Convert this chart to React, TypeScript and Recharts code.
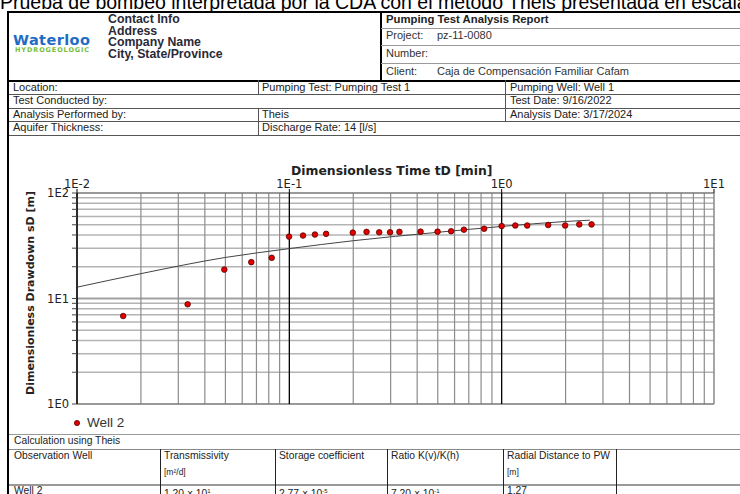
import React from 'react'
import { ComposedChart, Line, Scatter, XAxis, YAxis, ReferenceLine } from 'recharts'

// observed drawdown, Well 2
const wellTime = [0.0165, 0.0332, 0.0494, 0.0662, 0.0826, 0.0997, 0.116, 0.132, 0.149, 0.199, 0.231, 0.265, 0.298, 0.33, 0.415, 0.499, 0.578, 0.664, 0.827, 1.0, 1.159, 1.319, 1.656, 1.991, 2.32, 2.65]
const wellDrawdown = [6.82, 8.81, 18.8, 22.1, 24.3, 38.6, 39.5, 40.4, 41.0, 42.1, 42.8, 42.4, 42.4, 42.8, 43.0, 43.0, 43.4, 44.9, 45.9, 48.6, 49.2, 49.2, 49.7, 49.2, 50.4, 50.4]

// Theis type curve
const theisTime = [0.01, 0.02, 0.05, 0.1, 0.2, 0.5, 1, 2, 2.6]
const theisDrawdown = [12.8, 17.2, 24.5, 29.7, 35.3, 42.4, 48.2, 53.7, 55.3]

const xMajor = [0.01, 0.1, 1, 10]
const xMajorLabels = ['1E-2', '1E-1', '1E0', '1E1']
const xMinor = [0.02, 0.03, 0.04, 0.05, 0.06, 0.07, 0.08, 0.09, 0.2, 0.3, 0.4, 0.5, 0.6, 0.7, 0.8, 0.9, 2, 3, 4, 5, 6, 7, 8, 9]
const yMajor = [1, 10, 100]
const yMajorLabels = ['1E0', '1E1', '1E2']
const yMinor = [2, 3, 4, 5, 6, 7, 8, 9, 20, 30, 40, 50, 60, 70, 80, 90]

const wellData = wellTime.map((x, i) => ({ x, y: wellDrawdown[i] }))
const theisData = theisTime.map((x, i) => ({ x, y: theisDrawdown[i] }))
const yTicks = [...yMajor, ...yMinor].sort((a, b) => a - b)

const F = '"Liberation Sans", Arial, sans-serif'
const D = '"DejaVu Sans", sans-serif'

function T({ x, y, size = 11, bold = false, color = '#222', font = F, children }: any) {
  return (
    <div style={{ position: 'absolute', left: x, top: y - size * 0.6, fontSize: size, lineHeight: `${size * 1.2}px`, fontWeight: bold ? 'bold' : 'normal', color, fontFamily: font, whiteSpace: 'nowrap' }}>
      {children}
    </div>
  )
}

function HL({ y, x1 = 9, x2 = 740, color = '#888', w = 1 }: any) {
  return <div style={{ position: 'absolute', left: x1, top: y, width: x2 - x1, height: w, background: color }} />
}

function VL({ x, y1, y2, color = '#555', w = 1 }: any) {
  return <div style={{ position: 'absolute', left: x, top: y1, width: w, height: y2 - y1, background: color }} />
}

function Dot(props: any) {
  const { cx, cy } = props
  return <circle cx={cx} cy={cy} r={2.8} fill="#e00000" stroke="#5a0000" strokeWidth={0.8} />
}

function Chart() {
  return (
    <div style={{ position: 'absolute', left: 0, top: 140 }}>
      <ComposedChart width={740} height={280} margin={{ top: 35, right: 26, bottom: 16, left: 37 }}>
        <XAxis
          dataKey="x" type="number" scale="log" domain={[0.01, 10]} allowDataOverflow
          orientation="top" ticks={xMajor} height={18}
          tickFormatter={(v: number) => xMajorLabels[xMajor.indexOf(v)] ?? ''}
          tick={{ fontFamily: D, fontSize: 11.5, fill: '#222' }}
          axisLine={false} tickLine={{ stroke: '#000' }} tickSize={4} tickMargin={1}
        />
        <YAxis
          dataKey="y" type="number" scale="log" domain={[1, 100]} allowDataOverflow
          ticks={yTicks} width={40} interval={0}
          tickFormatter={(v: number) => yMajorLabels[yMajor.indexOf(v)] ?? ''}
          tick={{ fontFamily: D, fontSize: 11.5, fill: '#222' }}
          axisLine={{ stroke: '#000' }} tickLine={{ stroke: '#444' }} tickSize={5} tickMargin={3}
        />
        {yMinor.map((v) => <ReferenceLine key={'hy' + v} y={v} stroke="#b4b4b4" strokeWidth={1.5} />)}
        <ReferenceLine y={10} stroke="#a0a0a0" strokeWidth={2} />
        {xMinor.map((v) => <ReferenceLine key={'vx' + v} x={v} stroke="#8c8c8c" strokeWidth={1.2} />)}
        <ReferenceLine y={100} stroke="#777" strokeWidth={1.5} />
        <ReferenceLine y={1} stroke="#777" strokeWidth={1.5} />
        <ReferenceLine x={0.01} stroke="#000" strokeWidth={1.3} />
        <ReferenceLine x={0.1} stroke="#000" strokeWidth={1.3} />
        <ReferenceLine x={1} stroke="#000" strokeWidth={1.3} />
        <ReferenceLine x={10} stroke="#888" strokeWidth={1.5} />
        <Line data={theisData} dataKey="y" type="monotone" stroke="#444" strokeWidth={1} dot={false} isAnimationActive={false} />
        <Scatter data={wellData} dataKey="y" shape={<Dot />} isAnimationActive={false} />
      </ComposedChart>
    </div>
  )
}

export default function App() {
  return (
    <div style={{ position: 'absolute', left: 0, top: 0, width: 740, height: 494, overflow: 'hidden', background: '#fff', fontFamily: F }}>
      <div style={{ position: 'absolute', left: 0, top: -8.5, fontSize: 19.5, lineHeight: '20px', whiteSpace: 'nowrap', color: '#000' }}>
        Prueba de bombeo interpretada por la CDA con el método Theis presentada en escala log-log
      </div>

      {/* header box */}
      <div style={{ position: 'absolute', left: 7, top: 10.5, width: 760, height: 67.5, borderTop: '2px solid #000', borderLeft: '2px solid #000', borderBottom: '2px solid #000', background: '#fff' }} />
      <VL x={380} y1={11} y2={80} color="#000" w={1.5} />
      <HL y={27.5} x1={381} color="#999" w={1.5} />
      <HL y={44.5} x1={381} color="#999" w={1.5} />
      <HL y={62.5} x1={381} color="#999" w={1.5} />

      <T x={13} y={41} size={14.5} bold font={D} color="#1f6cc4"><span style={{ letterSpacing: 0.4 }}>Waterloo</span></T>
      <T x={15} y={50.5} size={6.5} bold font={D} color="#74bf3e"><span style={{ letterSpacing: 0.9 }}>HYDROGEOLOGIC</span></T>
      <T x={108} y={19.3} size={12.3} bold color="#2a2a38">Contact Info</T>
      <T x={108} y={31} size={12.3} bold color="#2a2a38">Address</T>
      <T x={108} y={42.7} size={12.3} bold color="#2a2a38">Company Name</T>
      <T x={108} y={54.3} size={12.3} bold color="#2a2a38">City, State/Province</T>

      <T x={386} y={19.5} size={11.3} bold>Pumping Test Analysis Report</T>
      <T x={386} y={36} size={11} color="#333">Project:</T>
      <T x={437} y={36} size={11} color="#333">pz-11-0080</T>
      <T x={386} y={54} size={11} color="#333">Number:</T>
      <T x={386} y={71.5} size={11} color="#333">Client:</T>
      <T x={437} y={71.5} size={11} color="#333">Caja de Compensación Familiar Cafam</T>

      {/* info rows */}
      <VL x={7} y1={80} y2={494} color="#000" w={2} />
      <HL y={94} color="#555" />
      <HL y={107.5} color="#555" />
      <HL y={121} color="#555" />
      <HL y={134.5} color="#555" />
      <VL x={258} y1={80} y2={94} />
      <VL x={505} y1={80} y2={121} />
      <VL x={258} y1={107.5} y2={134.5} />
      <T x={13} y={87.5} size={11}>Location:</T>
      <T x={262} y={87.5} size={11}>Pumping Test: Pumping Test 1</T>
      <T x={510} y={87.5} size={11}>Pumping Well: Well 1</T>
      <T x={13} y={101} size={11}>Test Conducted by:</T>
      <T x={510} y={101} size={11}>Test Date: 9/16/2022</T>
      <T x={13} y={114.5} size={11}>Analysis Performed by:</T>
      <T x={262} y={114.5} size={11}>Theis</T>
      <T x={510} y={114.5} size={11}>Analysis Date: 3/17/2024</T>
      <T x={13} y={128} size={11}>Aquifer Thickness:</T>
      <T x={262} y={128} size={11}>Discharge Rate: 14 [l/s]</T>

      {/* chart */}
      <T x={291} y={171} size={12.4} bold font={D}>Dimensionless Time tD [min]</T>
      <div style={{ position: 'absolute', left: 30, top: 293, transform: 'translate(-50%, -50%) rotate(-90deg)', fontFamily: D, fontSize: 11, fontWeight: 'bold', color: '#222', whiteSpace: 'nowrap' }}>
        Dimensionless Drawdown sD [m]
      </div>
      <Chart />
      <svg style={{ position: 'absolute', left: 73, top: 419 }} width={8} height={8}>
        <circle cx={4} cy={4} r={2.6} fill="#e00000" stroke="#5a0000" strokeWidth={0.8} />
      </svg>
      <T x={87} y={423} size={13.5} color="#333">Well 2</T>

      {/* results table */}
      <HL y={433.5} color="#999" w={1.5} />
      <HL y={449} color="#888" />
      <HL y={484} color="#999" w={1.5} />
      <VL x={160} y1={449} y2={494} color="#222" />
      <VL x={275} y1={449} y2={494} color="#222" />
      <VL x={386.5} y1={449} y2={494} color="#222" />
      <VL x={502.5} y1={449} y2={494} color="#222" />
      <VL x={616} y1={449} y2={494} color="#222" />
      <T x={14} y={441} size={10.3}>Calculation using Theis</T>
      <T x={14} y={456} size={10.3}>Observation Well</T>
      <T x={164} y={456} size={10.3}>Transmissivity</T>
      <T x={164} y={472} size={8.5}>[m²/d]</T>
      <T x={279} y={456} size={10.3}>Storage coefficient</T>
      <T x={391} y={456} size={10.3}>Ratio K(v)/K(h)</T>
      <T x={507} y={456} size={10.3}>Radial Distance to PW</T>
      <T x={507} y={472} size={8.5}>[m]</T>
      <T x={14} y={491} size={10.3}>Well 2</T>
      <T x={164} y={491} size={10.3}>1.20 × 10<sup style={{ fontSize: 6 }}>1</sup></T>
      <T x={279} y={491} size={10.3}>2.77 × 10<sup style={{ fontSize: 6 }}>-5</sup></T>
      <T x={391} y={491} size={10.3}>7.20 × 10<sup style={{ fontSize: 6 }}>-1</sup></T>
      <T x={507} y={491} size={10.3}>1.27</T>
    </div>
  )
}
